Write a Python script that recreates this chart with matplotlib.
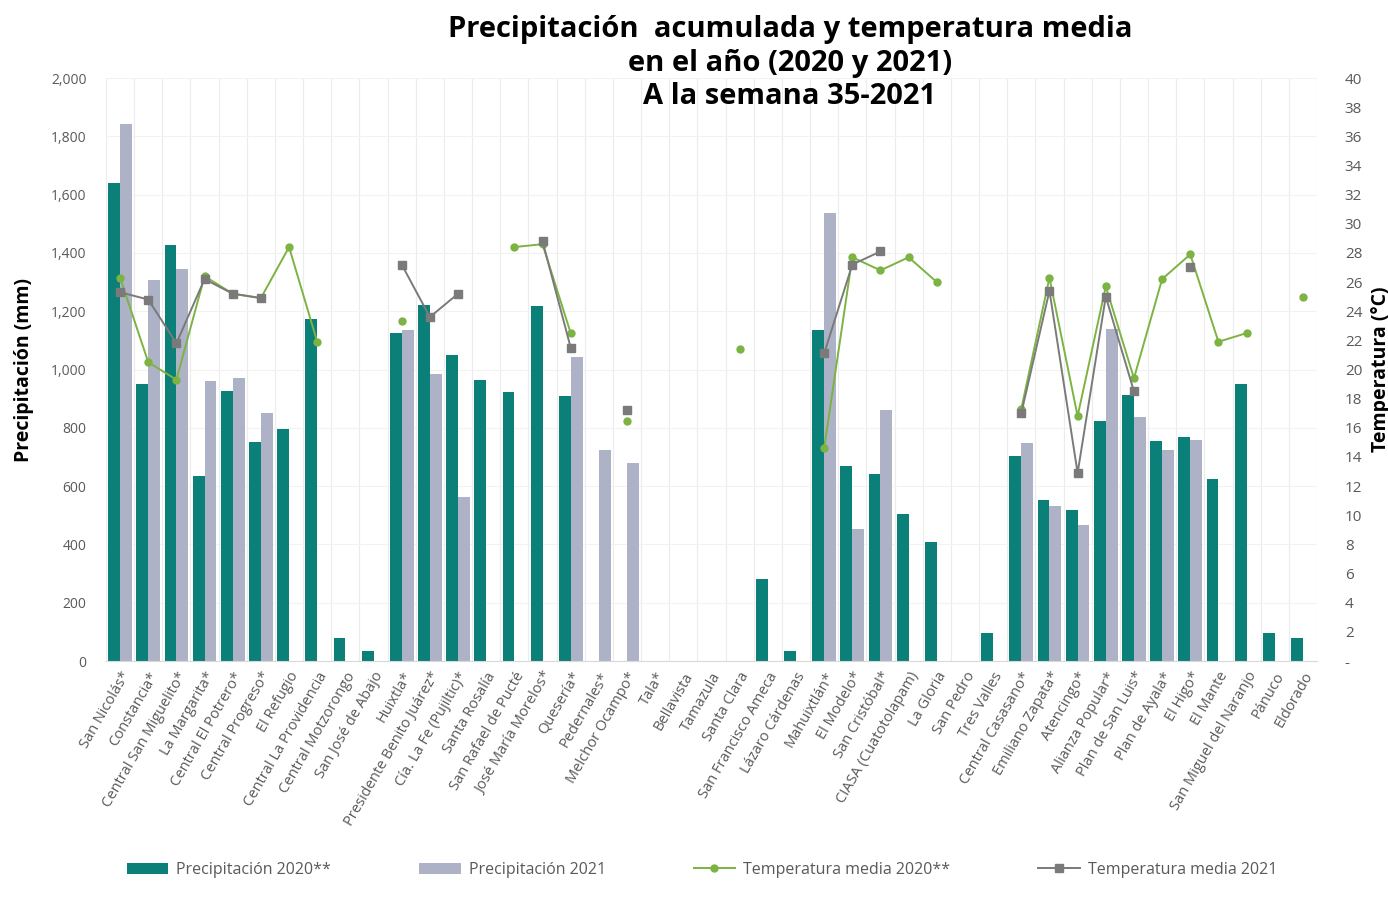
import numpy as np
import matplotlib.pyplot as plt

nan = np.nan

ingenios = ["San Nicolás*", "Constancia*", "Central San Miguelito*", "La Margarita*",
            "Central El Potrero*", "Central Progreso*", "El Refugio", "Central La Providencia",
            "Central Motzorongo", "San José de Abajo", "Huixtla*", "Presidente Benito Juárez*",
            "Cía. La Fe (Pujiltic)*", "Santa Rosalía", "San Rafael de Pucté", "José María Morelos*",
            "Quesería*", "Pedernales*", "Melchor Ocampo*", "Tala*", "Bellavista", "Tamazula",
            "Santa Clara", "San Francisco Ameca", "Lázaro Cárdenas", "Mahuixtlán*", "El Modelo*",
            "San Cristóbal*", "CIASA (Cuatotolapam)", "La Gloria", "San Pedro", "Tres Valles",
            "Central Casasano*", "Emiliano Zapata*", "Atencingo*", "Alianza Popular*",
            "Plan de San Luis*", "Plan de Ayala*", "El Higo*", "El Mante",
            "San Miguel del Naranjo", "Pánuco", "Eldorado"]

precip_2020 = [1640, 950, 1428, 636, 927, 752, 795, 1172, 78, 35,
               1126, 1221, 1050, 964, 924, 1218, 910, nan, nan, nan,
               nan, nan, nan, 281, 34, 1135, 669, 641, 504, 409,
               nan, 95, 703, 552, 518, 824, 912, 756, 768, 624,
               950, 95, 79]

precip_2021 = [1842, 1308, 1346, 962, 970, 852, nan, nan, nan, nan,
               1135, 984, 564, nan, nan, nan, 1044, 724, 679, nan,
               nan, nan, nan, nan, nan, 1538, 453, 861, nan, nan,
               nan, nan, 748, 532, 466, 1138, 836, 724, 758, nan,
               nan, nan, nan]

temp_2020 = [26.3, 20.5, 19.3, 26.4, 25.2, 24.9, 28.4, 21.9, nan, nan,
             23.3, nan, nan, nan, 28.4, 28.6, 22.5, nan, 16.5, nan,
             nan, nan, 21.4, nan, nan, 14.6, 27.7, 26.8, 27.7, 26.0,
             nan, nan, 17.3, 26.3, 16.8, 25.7, 19.4, 26.2, 27.9, 21.9,
             22.5, nan, 25.0]

temp_2021 = [25.3, 24.8, 21.8, 26.2, 25.2, 24.9, nan, nan, nan, nan,
             27.2, 23.6, 25.2, nan, nan, 28.8, 21.5, nan, 17.2, nan,
             nan, nan, nan, nan, nan, 21.1, 27.2, 28.1, nan, nan,
             nan, nan, 17.0, 25.4, 12.9, 25.0, 18.5, nan, 27.0, nan,
             nan, nan, nan]

plt.rcParams['font.family'] = ['Open Sans', 'DejaVu Sans']

teal = "#0b8078"
lavender = "#adb2c7"
green = "#7cb342"
grey = "#7a7a7a"
tick_col = "#595959"

x = np.arange(len(ingenios))
w = 0.42

fig = plt.figure(figsize=(13.88, 9.13), dpi=100)
ax = fig.add_axes([106 / 1388, 1 - 661 / 913, (1317 - 106) / 1388, (661 - 78) / 913])

# bars (precipitation)
ax.bar(x - w / 2, precip_2020, width=w, color=teal, label="Precipitación 2020**", zorder=2)
ax.bar(x + w / 2, precip_2021, width=w, color=lavender, label="Precipitación 2021", zorder=2)

ax.set_xlim(-0.5, len(ingenios) - 0.5)
ax.set_ylim(0, 2000)
ax.set_yticks(np.arange(0, 2001, 200))
ax.set_yticklabels([f"{v:,}" for v in range(0, 2001, 200)])
ax.set_xticks(x)
ax.set_xticklabels(ingenios, rotation=60, ha="right", rotation_mode="anchor", fontsize=10.5, color=tick_col)
ax.tick_params(axis="y", labelsize=10, labelcolor=tick_col, length=0, pad=14)
ax.tick_params(axis="x", length=0, pad=6)
ax.set_ylabel("Precipitación (mm)", fontsize=14, fontweight="bold", labelpad=12)

# light grid, vertical lines between categories
ax.set_xticks(np.arange(-0.5, len(ingenios), 1), minor=True)
ax.tick_params(axis="x", which="minor", length=0)
ax.grid(axis="x", which="minor", color="#ececec", lw=0.8, zorder=0)
ax.grid(axis="y", which="major", color="#f2f2f2", lw=0.8, zorder=0)
for s in ax.spines.values():
    s.set_visible(False)
ax.spines["bottom"].set_visible(True)
ax.spines["bottom"].set_color("#d9d9d9")

# temperature on the right axis
ax2 = ax.twinx()
ax2.plot(x, temp_2020, color=green, lw=1.4, marker="o", ms=5, label="Temperatura media 2020**", zorder=3)
ax2.plot(x, temp_2021, color=grey, lw=1.4, marker="s", ms=6, label="Temperatura media 2021", zorder=3)
ax2.set_ylim(0, 40)
ax2.set_yticks(np.arange(0, 41, 2))
ax2.set_yticklabels(["-"] + [str(v) for v in range(2, 41, 2)])
ax2.tick_params(axis="y", labelsize=11, labelcolor=tick_col, length=0, pad=20)
for s in ax2.spines.values():
    s.set_visible(False)
ax2.set_ylabel("Temperatura (°C)", fontsize=14, fontweight="bold", labelpad=6)

fig.text(790 / 1388, 1 - 63 / 913, "Precipitación  acumulada y temperatura media\nen el año (2020 y 2021)\nA la semana 35-2021",
         ha="center", va="center", fontsize=21, fontweight="bold", linespacing=1.22)

h1, l1 = ax.get_legend_handles_labels()
h2, l2 = ax2.get_legend_handles_labels()
fig.legend(h1 + h2, l1 + l2, loc="center", bbox_to_anchor=(702 / 1388, 1 - 870 / 913), ncol=4,
           frameon=False, fontsize=11.5, columnspacing=5.5, handlelength=2.6, handletextpad=0.5,
           labelcolor=tick_col)

fig.savefig("out.png", dpi=100)
